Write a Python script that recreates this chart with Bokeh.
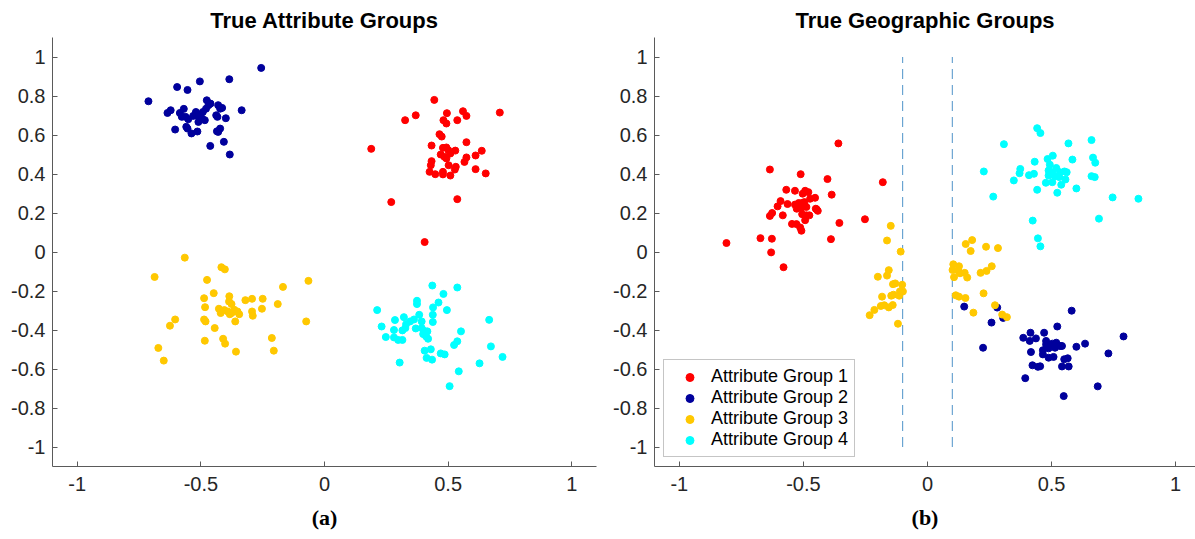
from bokeh.plotting import figure
from bokeh.layouts import row
from bokeh.models import FixedTicker, Title, CustomJSTickFormatter
from bokeh.embed import file_html
from bokeh.resources import INLINE

# ---------------- data: panel (a) True Attribute Groups ----------------
a1_x = [0.444, 0.709, 0.189, 0.326, 0.369, 0.495, 0.481, 0.493, 0.537, 0.560, 0.574, 0.465, 0.474, 0.574,
        0.433, 0.479, 0.493, 0.501, 0.529, 0.470, 0.485, 0.493, 0.509, 0.636, 0.611, 0.574, 0.566, 0.433,
        0.430, 0.502, 0.531, 0.527, 0.425, 0.448, 0.479, 0.479, 0.509, 0.611, 0.652, 0.270, 0.537, 0.405]
a1_y = [0.780, 0.715, 0.529, 0.676, 0.701, 0.712, 0.676, 0.659, 0.676, 0.722, 0.698, 0.604, 0.592, 0.563,
        0.546, 0.534, 0.536, 0.522, 0.520, 0.500, 0.488, 0.480, 0.505, 0.519, 0.495, 0.485, 0.462, 0.466,
        0.445, 0.445, 0.437, 0.423, 0.411, 0.399, 0.411, 0.398, 0.392, 0.425, 0.403, 0.256, 0.271, 0.051]

a2_x = [-0.712, -0.256, -0.596, -0.554, -0.504, -0.385, -0.635, -0.622, -0.585, -0.569, -0.562, -0.551,
        -0.604, -0.559, -0.554, -0.538, -0.514, -0.531, -0.520, -0.507, -0.510, -0.495, -0.484, -0.492,
        -0.476, -0.469, -0.479, -0.461, -0.430, -0.422, -0.414, -0.438, -0.433, -0.399, -0.335, -0.430,
        -0.422, -0.435, -0.462, -0.407, -0.383, -0.577]
a2_y = [0.773, 0.944, 0.846, 0.831, 0.875, 0.886, 0.713, 0.727, 0.713, 0.734, 0.693, 0.681,
        0.628, 0.642, 0.633, 0.608, 0.618, 0.698, 0.718, 0.693, 0.667, 0.684, 0.676, 0.718,
        0.778, 0.753, 0.735, 0.761, 0.753, 0.735, 0.739, 0.701, 0.693, 0.686, 0.727, 0.616,
        0.633, 0.619, 0.544, 0.565, 0.500, 0.693]

a3_x = [-0.565, -0.687, -0.417, -0.403, -0.475, -0.065, -0.168, -0.448, -0.487, -0.483, -0.385, -0.386,
        -0.376, -0.427, -0.420, -0.405, -0.391, -0.376, -0.365, -0.352, -0.345, -0.383, -0.320, -0.293,
        -0.250, -0.293, -0.290, -0.253, -0.189, -0.074, -0.604, -0.625, -0.487, -0.481, -0.361, -0.444,
        -0.484, -0.410, -0.402, -0.358, -0.213, -0.205, -0.672, -0.650]
a3_y = [-0.029, -0.128, -0.078, -0.089, -0.143, -0.148, -0.179, -0.211, -0.237, -0.283, -0.227, -0.254,
        -0.267, -0.291, -0.313, -0.298, -0.305, -0.313, -0.296, -0.305, -0.319, -0.319, -0.247, -0.240,
        -0.240, -0.305, -0.327, -0.291, -0.267, -0.356, -0.346, -0.378, -0.346, -0.356, -0.356, -0.390,
        -0.455, -0.445, -0.470, -0.511, -0.441, -0.506, -0.492, -0.557]

a4_x = [0.213, 0.436, 0.537, 0.481, 0.374, 0.374, 0.461, 0.439, 0.495, 0.438, 0.383, 0.321, 0.362, 0.346,
        0.330, 0.393, 0.438, 0.285, 0.231, 0.281, 0.327, 0.315, 0.369, 0.393, 0.402, 0.416, 0.399, 0.411,
        0.419, 0.248, 0.281, 0.298, 0.315, 0.552, 0.666, 0.537, 0.524, 0.673, 0.405, 0.430, 0.413, 0.435,
        0.470, 0.486, 0.304, 0.627, 0.720, 0.543, 0.506]
a4_y = [-0.298, -0.172, -0.182, -0.215, -0.250, -0.267, -0.259, -0.284, -0.298, -0.322, -0.322, -0.334,
        -0.346, -0.356, -0.370, -0.356, -0.359, -0.349, -0.382, -0.400, -0.390, -0.402, -0.392, -0.390,
        -0.404, -0.407, -0.421, -0.433, -0.445, -0.436, -0.438, -0.451, -0.451, -0.407, -0.348, -0.458,
        -0.477, -0.484, -0.506, -0.499, -0.543, -0.552, -0.520, -0.525, -0.567, -0.571, -0.538, -0.612,
        -0.688]

# ---------------- data: panel (b) True Geographic Groups ----------------
b1_x = [-0.359, -0.635, -0.511, -0.403, -0.180, -0.569, -0.534, -0.493, -0.503, -0.480, -0.453, -0.473,
        -0.386, -0.592, -0.604, -0.564, -0.534, -0.519, -0.506, -0.496, -0.527, -0.508, -0.488, -0.450,
        -0.442, -0.447, -0.635, -0.626, -0.583, -0.505, -0.488, -0.476, -0.493, -0.546, -0.528, -0.513,
        -0.508, -0.355, -0.252, -0.810, -0.673, -0.627, -0.389, -0.630, -0.580]
b1_y = [0.557, 0.423, 0.399, 0.374, 0.358, 0.319, 0.314, 0.314, 0.299, 0.307, 0.278, 0.273,
        0.294, 0.261, 0.234, 0.246, 0.243, 0.251, 0.251, 0.256, 0.222, 0.226, 0.231, 0.222,
        0.211, 0.219, 0.185, 0.200, 0.188, 0.194, 0.188, 0.188, 0.163, 0.144, 0.143, 0.126,
        0.109, 0.149, 0.168, 0.046, 0.071, 0.068, 0.066, -0.002, -0.078]

b2_x = [0.148, 0.281, 0.305, 0.258, 0.581, 0.523, 0.224, 0.386, 0.415, 0.412, 0.437, 0.470, 0.478, 0.478,
        0.503, 0.519, 0.534, 0.542, 0.514, 0.488, 0.465, 0.465, 0.488, 0.508, 0.417, 0.551, 0.565, 0.600,
        0.635, 0.790, 0.729, 0.423, 0.445, 0.454, 0.542, 0.569, 0.394, 0.686, 0.549]
b2_y = [-0.280, -0.285, -0.338, -0.362, -0.301, -0.382, -0.491, -0.440, -0.414, -0.456, -0.443, -0.414,
        -0.456, -0.474, -0.470, -0.465, -0.482, -0.482, -0.491, -0.494, -0.504, -0.525, -0.542, -0.538,
        -0.513, -0.550, -0.545, -0.486, -0.470, -0.433, -0.520, -0.581, -0.589, -0.586, -0.587, -0.587,
        -0.647, -0.689, -0.739]

b3_x = [-0.148, -0.163, -0.108, -0.200, -0.163, -0.156, -0.139, -0.130, -0.102, -0.099, -0.111, -0.114,
        -0.137, -0.146, -0.183, -0.188, -0.174, -0.156, -0.140, -0.214, -0.233, -0.119,
        0.154, 0.180, 0.174, 0.236, 0.284, 0.104, 0.127, 0.125, 0.101, 0.131, 0.150, 0.160, 0.107,
        0.214, 0.238, 0.259, 0.114, 0.127, 0.153, 0.226, 0.272, 0.185, 0.301, 0.320]
b3_y = [0.134, 0.059, 0.002, -0.127, -0.121, -0.093, -0.165, -0.161, -0.168, -0.202, -0.202, -0.224,
        -0.219, -0.224, -0.229, -0.277, -0.273, -0.284, -0.272, -0.297, -0.324, -0.368,
        0.041, 0.061, 0.005, 0.027, 0.020, -0.063, -0.073, -0.097, -0.092, -0.109, -0.107, -0.131, -0.129,
        -0.107, -0.097, -0.073, -0.222, -0.229, -0.236, -0.212, -0.273, -0.311, -0.321, -0.334]

b4_x = [0.442, 0.455, 0.308, 0.568, 0.661, 0.505, 0.484, 0.432, 0.584, 0.667, 0.676, 0.374, 0.371, 0.227,
        0.348, 0.409, 0.429, 0.493, 0.519, 0.488, 0.503, 0.534, 0.552, 0.561, 0.488, 0.514, 0.531, 0.556,
        0.477, 0.503, 0.539, 0.661, 0.674, 0.442, 0.523, 0.600, 0.265, 0.746, 0.850, 0.691, 0.424, 0.445,
        0.455]
b4_y = [0.635, 0.610, 0.553, 0.557, 0.574, 0.494, 0.477, 0.463, 0.474, 0.484, 0.458, 0.426, 0.404, 0.413,
        0.367, 0.394, 0.401, 0.448, 0.431, 0.418, 0.409, 0.409, 0.413, 0.409, 0.392, 0.389, 0.384, 0.372,
        0.355, 0.358, 0.345, 0.389, 0.384, 0.319, 0.304, 0.326, 0.284, 0.280, 0.273, 0.171, 0.161, 0.070,
        0.029]

# geographic boundaries (dashed)
boundary_x = [-0.1, 0.1]
boundary_y0 = [-1.0, -1.0]
boundary_y1 = [1.0, 1.0]

group_names = ["Attribute Group 1", "Attribute Group 2", "Attribute Group 3", "Attribute Group 4"]
group_colors = ["#FF0000", "#00009C", "#FFC800", "#00FFFF"]

x_ticks = [-1, -0.5, 0, 0.5, 1]
y_ticks = [-1, -0.8, -0.6, -0.4, -0.2, 0, 0.2, 0.4, 0.6, 0.8, 1]

FONT = "Liberation Sans"
AXIS_COLOR = "#5a5a5a"
TICK_TEXT = "#262626"


def make_panel(width, border_left, border_right, x_end, title, sub):
    p = figure(width=width, height=539, x_range=(-1.1, x_end), y_range=(-1.1, 1.1),
               output_backend="svg", toolbar_location=None,
               min_border_left=border_left, min_border_right=border_right,
               min_border_top=35, min_border_bottom=73)
    p.outline_line_color = None
    p.grid.visible = False
    p.background_fill_color = "white"
    p.border_fill_color = "white"

    p.title.text = title
    p.title.align = "center"
    p.title.text_font = FONT
    p.title.text_font_size = "22px"
    p.title.text_font_style = "bold"
    p.title.text_color = "black"

    for ax in (p.xaxis[0], p.yaxis[0]):
        ax.axis_line_color = AXIS_COLOR
        ax.major_tick_line_color = AXIS_COLOR
        ax.major_tick_in = 5
        ax.major_tick_out = 0
        ax.minor_tick_line_color = None
        ax.major_label_text_font = FONT
        ax.major_label_text_font_size = "20px"
        ax.major_label_text_color = TICK_TEXT
        ax.formatter = CustomJSTickFormatter(code="return String(tick);")
    p.xaxis[0].ticker = FixedTicker(ticks=x_ticks)
    p.yaxis[0].ticker = FixedTicker(ticks=y_ticks)
    p.xaxis[0].major_label_standoff = 10
    p.yaxis[0].major_label_standoff = 7

    p.add_layout(Title(text=sub, align="center", text_font="Liberation Serif",
                       text_font_size="22px", text_font_style="bold", text_color="black",
                       standoff=19), "below")
    return p


# panel (a)
pa = make_panel(600, 52, 4, 1.1, "True Attribute Groups", "(a)")
for xs, ys, c in zip([a1_x, a2_x, a3_x, a4_x], [a1_y, a2_y, a3_y, a4_y], group_colors):
    pa.scatter(xs, ys, size=7, fill_color=c, line_color=c)

# panel (b)
pb = make_panel(595, 54, 0, 1.08, "True Geographic Groups", "(b)")
pb.segment(x0=boundary_x, y0=boundary_y0, x1=boundary_x, y1=boundary_y1,
           line_color="#4f93c9", line_width=1, line_dash="10 6")
for xs, ys, c, name in zip([b1_x, b2_x, b3_x, b4_x], [b1_y, b2_y, b3_y, b4_y], group_colors, group_names):
    pb.scatter(xs, ys, size=7, fill_color=c, line_color=c, legend_label=name)

lg = pb.legend[0]
lg.location = (9, 9)
lg.label_text_font = FONT
lg.label_text_font_size = "18px"
lg.label_text_color = "black"
lg.border_line_color = "#8c8c8c"
lg.border_line_width = 1
lg.background_fill_color = "white"
lg.background_fill_alpha = 1
lg.padding = 6
lg.spacing = 0
lg.label_height = 20
lg.glyph_height = 20
lg.glyph_width = 39
lg.label_standoff = 2
lg.margin = 0

layout = row(pa, pb)
open("out.html", "w").write(file_html(layout, INLINE))
